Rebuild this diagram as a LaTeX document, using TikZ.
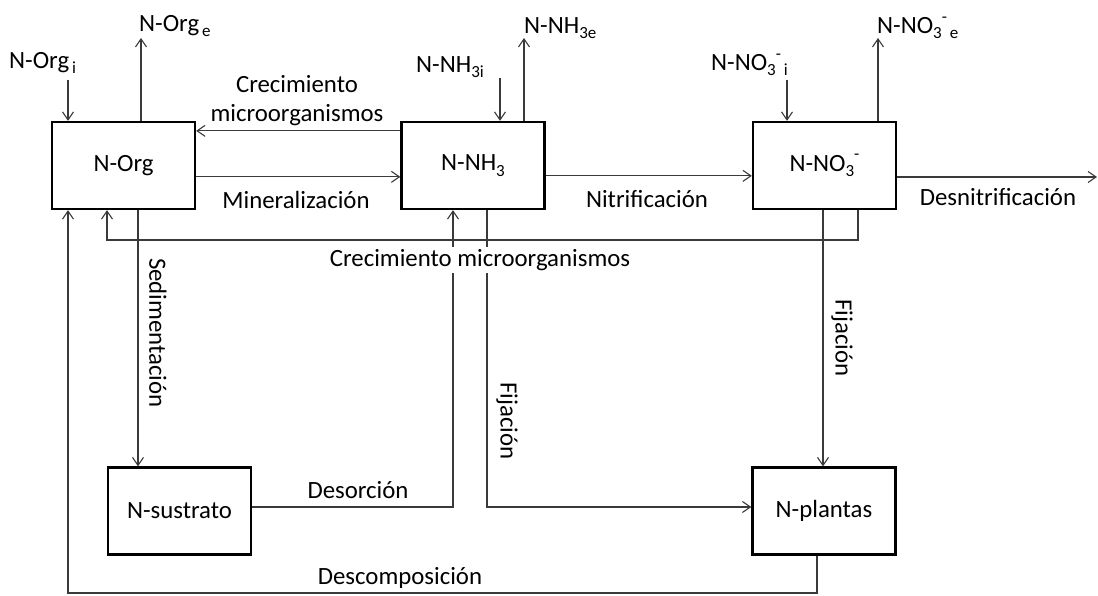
\documentclass[tikz,border=0pt]{standalone}
\usepackage{fontspec}
\setmainfont{Carlito}
\usetikzlibrary{arrows.meta,calc}
% small lowered / raised text for chemical indices
\newcommand\sbs[1]{\raisebox{-0.22em}{\fontsize{17}{17}\selectfont #1}}
\newcommand\sps[1]{\raisebox{0.45em}{\fontsize{17}{17}\selectfont #1}}
\definecolor{wire}{HTML}{3A3A3A}
\tikzset{
  pool/.style={draw=black, line width=2.3pt, minimum width=143pt, minimum height=87pt, inner sep=0pt},
  flow/.style={draw=wire, line width=1.1pt, line join=miter,
    -{Straight Barb[length=8pt,width=11pt,line width=1.1pt]}},
  lbl/.style={inner sep=1pt},
  vlbl/.style={inner sep=1pt, rotate=-90},
}
\begin{document}
\begin{tikzpicture}[x=1pt,y=-1pt,font=\fontsize{24.8}{29}\selectfont]
\useasboundingbox (0,0) rectangle (1098,596);

% nitrogen pools
\node[pool] (org) at (123.5,165.5) {N-Org};
\node[pool] (nh3) at (473,165.5) {N-NH\sbs{3}};
\node[pool] (no3) at (824.5,165.5) {N-NO\sbs{3}\sps{-}};
\node[pool] (sus) at (179.5,511) {N-sustrato};
\node[pool] (pla) at (824,511) {N-plantas};

% inputs and outputs at the top
\coordinate (oiS) at (68,80);
\coordinate (oeE) at (141,38);
\coordinate (hiS) at (500,78);
\coordinate (heE) at (524,38);
\coordinate (niS) at (787,80);
\coordinate (neE) at (878,38);
\draw[flow] (oiS) -- (oiS |- org.north);
\draw[flow] (org.north -| oeE) -- (oeE);
\draw[flow] (hiS) -- (hiS |- nh3.north);
\draw[flow] (nh3.north -| heE) -- (heE);
\draw[flow] (niS) -- (niS |- no3.north);
\draw[flow] (no3.north -| neE) -- (neE);

\node[lbl, anchor=west] (lOi) at (8,63) {N-Org\sbs{\,i}};
\node[lbl, anchor=west] (lOe) at (138,26) {N-Org\sbs{\,e}};
\node[lbl, anchor=west] (lHi) at (415,67) {N-NH\sbs{3i}};
\node[lbl, anchor=west] (lHe) at (523,28) {N-NH\sbs{3e}};
\node[lbl, anchor=west] (lNi) at (710,65) {N-NO\sbs{3}\sps{-}\sbs{\,i}};
\node[lbl, anchor=west] (lNe) at (876,28) {N-NO\sbs{3}\sps{-}\sbs{\,e}};

% horizontal transfers between the upper pools
\draw[flow] ($(nh3.north west)+(0,10)$) -- ($(org.north east)+(0,10)$);
\draw[flow] ($(org.north east)+(0,56)$) -- ($(nh3.north west)+(0,56)$);
\draw[flow] ($(nh3.north east)+(0,55)$) -- ($(no3.north west)+(0,55)$);
\coordinate (dnE) at (1097,177);
\draw[flow] (no3.east |- dnE) -- (dnE);

\node[lbl, align=center] (lCre) at (297,101) {Crecimiento\\microorganismos};
\node[lbl] (lMin) at (296,200) {Mineralización};
\node[lbl] (lNit) at (647,199) {Nitrificación};
\node[lbl] (lDes) at (998,197) {Desnitrificación};

% return loop from nitrate to organic nitrogen
\coordinate (gR) at (858,240);
\coordinate (gL) at (107,240);
\draw[flow] (no3.south -| gR) -- (gR) -- (gL) -- (org.south -| gL);

% sedimentation, desorption, uptake and decomposition
\coordinate (sdX) at (138,0);
\draw[flow] (org.south -| sdX) -- (sus.north -| sdX);
\coordinate (dsC) at (453,507);
\draw[flow] (sus.east |- dsC) -- (dsC) -- (nh3.south -| dsC);
\coordinate (fmC) at (487,507);
\draw[flow] (nh3.south -| fmC) -- (fmC) -- (pla.west |- fmC);
\coordinate (frX) at (823,0);
\draw[flow] (no3.south -| frX) -- (pla.north -| frX);
\coordinate (dcR) at (817,593);
\coordinate (dcL) at (68,593);
\draw[flow] (pla.south -| dcR) -- (dcR) -- (dcL) -- (org.south -| dcL);

\node[vlbl] (lSed) at (158,333) {Sedimentación};
\node[vlbl] (lFm) at (507,421) {Fijación};
\node[vlbl] (lFr) at (842,338) {Fijación};
\node[lbl] (lDso) at (358,490) {Desorción};
\node[lbl] (lDco) at (400,578) {Descomposición};
\node[lbl, fill=white, inner sep=2pt] (lCre2) at (480,260) {Crecimiento microorganismos};
\end{tikzpicture}
\end{document}
